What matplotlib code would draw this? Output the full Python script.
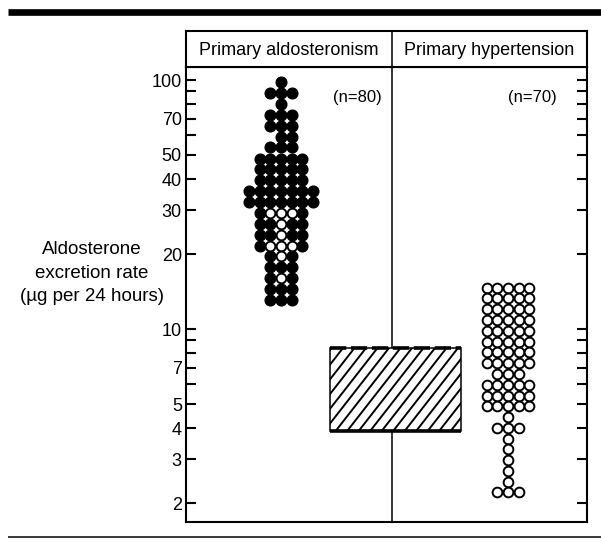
import matplotlib
matplotlib.use('Agg')
import matplotlib.pyplot as plt
from matplotlib.patches import Rectangle
from matplotlib.lines import Line2D
from matplotlib.ticker import FixedLocator, NullFormatter, FixedFormatter
import numpy as np

plt.rcParams['font.family'] = ['Liberation Sans', 'DejaVu Sans']

# ---------------- data ----------------
group_names = ["Primary aldosteronism", "Primary hypertension"]
group_n = ["(n=80)", "(n=70)"]

# row values (µg per 24 h) with the dots of each row: F = filled, O = open, . = empty slot
aldo_values = [98, 88.6, 80.1, 72.5, 65.5, 59.3, 53.6, 48.4, 43.8, 39.6, 35.8,
               32.4, 29.3, 26.5, 23.9, 21.6, 19.6, 17.7, 16.0, 14.5, 13.1]
aldo_rows = ["...F...", "..FFF..", "...F...", "..FFF..", "..FFF..", "...FF..",
             "..FFF..", ".FFFFF.", ".FFFFF.", ".FFFFF.", "FFFFFFF", "FFFFFFF",
             ".FOOOF.", ".FFOFF.", ".FFOFF.", ".FOOOF.", "..FOF..", "..FFF..",
             "..FOF..", "..FFF..", "..FFF.."]

hyp_values = [14.6, 13.3, 12.0, 10.9, 9.85, 8.9, 8.07, 7.3, 6.6, 5.98, 5.41,
              4.9, 4.43, 4.01, 3.63, 3.29, 2.98, 2.69, 2.44, 2.21]
hyp_rows = ["OOOOO", "OOOOO", "OOOOO", "OOOOO", "OOOOO", "OOOOO", "OOOOO",
            "OOOOO", ".OOO.", "OOOOO", "OOOOO", "OOOOO", "..O..", ".OOO.",
            "..O..", "..O..", "..O..", "..O..", "..O..", ".OOO."]

normal_low, normal_high = 3.9, 8.4

major_ticks = [2, 3, 4, 5, 7, 10, 20, 30, 40, 50, 70, 100]
major_labels = ["2", "3", "4", "5", "7", "10", "20", "30", "40", "50", "70", "100"]
minor_ticks = [6, 8, 9, 60, 80, 90]

# ---------------- figure ----------------
W, H = 601, 542
fig = plt.figure(figsize=(W / 100, H / 100), dpi=100)

ax_l, ax_r, ax_t, ax_b = 186, 587, 67, 522
ax = fig.add_axes([ax_l / W, 1 - ax_b / H, (ax_r - ax_l) / W, (ax_b - ax_t) / H])
hx = fig.add_axes([ax_l / W, 1 - ax_t / H, (ax_r - ax_l) / W, (ax_t - 31) / H])

xw = ax_r - ax_l
divider = 206
ax.set_xlim(0, xw)
ax.set_yscale('log')
ax.set_ylim(1.68, 112.8)

for sp in ax.spines.values():
    sp.set_linewidth(1.5)
ax.set_xticks([])
ax.yaxis.set_major_locator(FixedLocator(major_ticks))
ax.yaxis.set_major_formatter(FixedFormatter(major_labels))
ax.yaxis.set_minor_locator(FixedLocator(minor_ticks))
ax.yaxis.set_minor_formatter(NullFormatter())
ax.tick_params(axis='y', which='both', direction='in', length=7.5, width=1.5,
               left=True, right=True, labelsize=13, pad=3)

ax.axvline(divider, color='black', lw=1.1, zorder=1)

# dot columns
step = 10.7
def draw_cluster(center, values, rows):
    fx, fy, ox, oy = [], [], [], []
    for v, pat in zip(values, rows):
        n = len(pat)
        for j, ch in enumerate(pat):
            x = center + (j - (n - 1) / 2) * step
            if ch == 'F':
                fx.append(x); fy.append(v)
            elif ch == 'O':
                ox.append(x); oy.append(v)
    ax.plot(fx, fy, 'o', ms=7.7, mfc='black', mec='black', mew=1.0, ls='none', zorder=4)
    ax.plot(ox, oy, 'o', ms=7.0, mfc='white', mec='black', mew=1.4, ls='none', zorder=5)

draw_cluster(95, aldo_values, aldo_rows)
draw_cluster(322, hyp_values, hyp_rows)

# normal range box
bx0, bx1 = 144, 275
rect = Rectangle((bx0, normal_low), bx1 - bx0, normal_high - normal_low,
                 facecolor='white', edgecolor='black', lw=1.1, zorder=3)
ax.add_patch(rect)
# hatch lines computed in display space
fig.canvas.draw()
p0 = ax.transData.transform((bx0, normal_low))
p1 = ax.transData.transform((bx1, normal_high))
hgt = p1[1] - p0[1]
ang = np.deg2rad(52)
dxl = hgt / np.tan(ang)
sp_h = 11.5
inv = ax.transData.inverted()
xs = np.arange(p0[0] - dxl, p1[0] + sp_h, sp_h)
for xstart in xs:
    a = inv.transform((xstart, p0[1] - 2))
    b = inv.transform((xstart + dxl + 4 / np.tan(ang), p1[1] + 2))
    ln = Line2D([a[0], b[0]], [a[1], b[1]], color='black', lw=1.4, zorder=3.5)
    ax.add_line(ln)
    ln.set_clip_path(rect)
ax.plot([bx0, bx1], [normal_high, normal_high], color='black', lw=2.6,
        dashes=(4.5, 1.3), solid_capstyle='butt', zorder=3.6)
ax.plot([bx0, bx1], [normal_low, normal_low], color='black', lw=2.6,
        solid_capstyle='butt', zorder=3.6)

# group n labels
ax.text(196, 0.932, group_n[0], transform=ax.get_xaxis_transform(),
        ha='right', va='center', fontsize=12)
ax.text(371, 0.932, group_n[1], transform=ax.get_xaxis_transform(),
        ha='right', va='center', fontsize=12)

# header
hx.set_xlim(0, xw)
hx.set_ylim(0, 1)
hx.set_xticks([]); hx.set_yticks([])
for sp in hx.spines.values():
    sp.set_linewidth(1.5)
hx.axvline(divider, color='black', lw=1.1)
hx.text(divider / 2, 0.47, group_names[0], ha='center', va='center', fontsize=13)
hx.text((divider + xw) / 2, 0.47, group_names[1], ha='center', va='center', fontsize=13)

# y label
fig.text(91.5 / W, 1 - 273 / H, "Aldosterone\nexcretion rate\n(µg per 24 hours)",
         ha='center', va='center', fontsize=13.5, linespacing=1.5)

# page rules
fig.add_artist(Line2D([8 / W, 1], [1 - 11.5 / H] * 2, lw=4.8, color='black',
                      transform=fig.transFigure, solid_capstyle='butt'))
fig.add_artist(Line2D([8 / W, 1], [1 - 537 / H] * 2, lw=1.1, color='black',
                      transform=fig.transFigure, solid_capstyle='butt'))

fig.savefig('out.png', dpi=100)
